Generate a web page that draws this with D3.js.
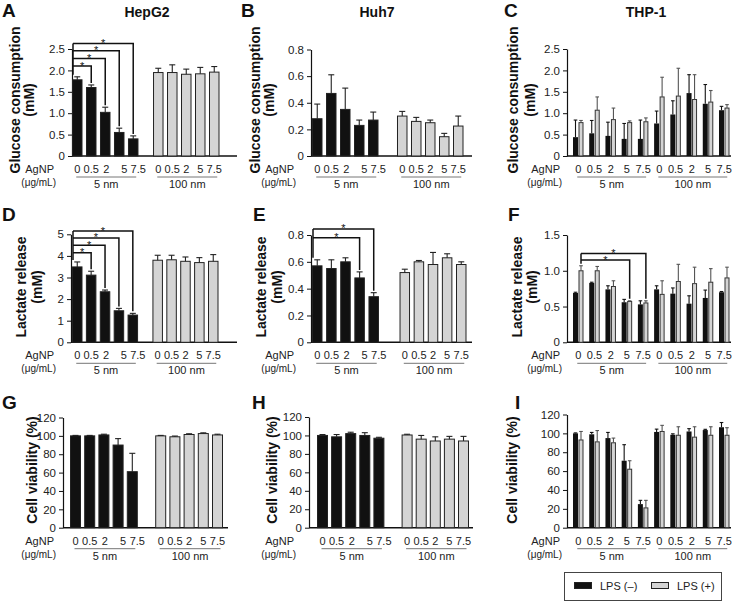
<!DOCTYPE html>
<html><head><meta charset="utf-8">
<script src="https://cdn.jsdelivr.net/npm/d3@7"></script>
<style>
body{margin:0;background:#fff}
svg{display:block;font-family:"Liberation Sans",Arial,Helvetica,sans-serif}
</style>
</head><body>
<svg id="chart" width="734" height="602"></svg>
<script>
// ---------- shared categories ----------
const doses = ["0", "0.5", "2", "5", "7.5"];
const sizeGroups = ["5 nm", "100 nm"];
const seriesNames = ["LPS (–)", "LPS (+)"];
const cellLines = ["HepG2", "Huh7", "THP-1"];
const panelLetters = ["A","B","C","D","E","F","G","H","I"];
const yLabels = [["Glucose consumption", "(mM)"], ["Lactate release", "(mM)"], ["Cell viability (%)"]];
const xLabelLine1 = "AgNP";
const xLabelLine2 = "(μg/mL)";

// ---------- A: HepG2 glucose (mM) ----------
const hepg2Glucose5 = [1.78, 1.60, 1.02, 0.55, 0.40];
const hepg2Glucose5Err = [0.07, 0.06, 0.12, 0.10, 0.07];
const hepg2Glucose100 = [1.95, 1.95, 1.91, 1.92, 1.96];
const hepg2Glucose100Err = [0.10, 0.18, 0.12, 0.15, 0.13];
const hepg2GlucoseSigTargets = [1, 2, 3, 4];
const hepg2GlucoseSigLevels = [2.10, 2.28, 2.46, 2.63];

// ---------- B: Huh7 glucose (mM) ----------
const huh7Glucose5 = [0.28, 0.47, 0.35, 0.23, 0.27];
const huh7Glucose5Err = [0.11, 0.14, 0.16, 0.04, 0.06];
const huh7Glucose100 = [0.30, 0.26, 0.25, 0.145, 0.225];
const huh7Glucose100Err = [0.035, 0.03, 0.02, 0.025, 0.075];

// ---------- C: THP-1 glucose (mM), 5 nm then 100 nm ----------
const thp1GlucoseLpsNeg = [0.44, 0.53, 0.47, 0.40, 0.40, 0.76, 0.97, 1.47, 1.22, 1.07];
const thp1GlucoseLpsNegErr = [0.40, 0.30, 0.32, 0.36, 0.44, 0.29, 0.32, 0.43, 0.45, 0.09];
const thp1GlucoseLpsPos = [0.78, 1.07, 0.85, 0.78, 0.80, 1.38, 1.40, 1.32, 1.26, 1.12];
const thp1GlucoseLpsPosErr = [0.05, 0.31, 0.27, 0.04, 0.09, 0.46, 0.65, 0.58, 0.27, 0.08];

// ---------- D: HepG2 lactate (mM) ----------
const hepg2Lactate5 = [3.49, 3.11, 2.34, 1.46, 1.26];
const hepg2Lactate5Err = [0.23, 0.18, 0.08, 0.11, 0.08];
const hepg2Lactate100 = [3.80, 3.82, 3.75, 3.69, 3.75];
const hepg2Lactate100Err = [0.23, 0.21, 0.20, 0.23, 0.31];
const hepg2LactateSigTargets = [1, 2, 3, 4];
const hepg2LactateSigLevels = [4.15, 4.49, 4.83, 5.15];

// ---------- E: Huh7 lactate (mM) ----------
const huh7Lactate5 = [0.57, 0.55, 0.60, 0.48, 0.34];
const huh7Lactate5Err = [0.045, 0.065, 0.03, 0.045, 0.03];
const huh7Lactate100 = [0.52, 0.60, 0.58, 0.63, 0.58];
const huh7Lactate100Err = [0.025, 0.01, 0.09, 0.03, 0.02];
const huh7LactateSigTargets = [3, 4];
const huh7LactateSigLevels = [0.78, 0.845];

// ---------- F: THP-1 lactate (mM) ----------
const thp1LactateLpsNeg = [0.69, 0.83, 0.74, 0.56, 0.53, 0.74, 0.68, 0.54, 0.62, 0.70];
const thp1LactateLpsNegErr = [0.01, 0.01, 0.05, 0.04, 0.05, 0.05, 0.08, 0.11, 0.11, 0.01];
const thp1LactateLpsPos = [1.00, 1.00, 0.78, 0.57, 0.55, 0.67, 0.85, 0.82, 0.84, 0.90];
const thp1LactateLpsPosErr = [0.07, 0.06, 0.08, 0.01, 0.03, 0.19, 0.24, 0.23, 0.19, 0.15];
const thp1LactateSigTargets = [3, 4];
const thp1LactateSigLevels = [1.15, 1.24];

// ---------- G: HepG2 viability (%) ----------
const hepg2Viability5 = [100, 100, 101, 90, 61];
const hepg2Viability5Err = [0.5, 0.5, 0.8, 7, 20];
const hepg2Viability100 = [100, 99, 101.5, 102.5, 101];
const hepg2Viability100Err = [0.5, 0.8, 0.8, 0.8, 0.8];

// ---------- H: Huh7 viability (%) ----------
const huh7Viability5 = [100, 98.5, 102, 100, 97];
const huh7Viability5Err = [1, 2.5, 1.5, 3, 1];
const huh7Viability100 = [100.5, 96, 94, 96, 94];
const huh7Viability100Err = [0.8, 4, 4.5, 3, 5];

// ---------- I: THP-1 viability (%) ----------
const thp1ViabilityLpsNeg = [100, 99, 95, 71, 25, 101.5, 98.5, 102, 103.5, 106.5];
const thp1ViabilityLpsNegErr = [0.5, 2, 6, 17, 4, 3, 1, 3, 0.8, 5];
const thp1ViabilityLpsPos = [93, 91, 90, 62, 21, 102, 98, 96, 98, 98];
const thp1ViabilityLpsPosErr = [9, 12, 5, 9, 8, 6.5, 9, 11, 9, 8];

// ================= drawing =================
const svg = d3.select("#chart");
const INK = "#111";
const GREY = "#d4d4d4";
const titleX = [147, 377, 646];
const rowBase = [156, 342.3, 527.7];
const letterPos = [[2,17],[241,17],[504,17],[2,221],[253,221],[508,221],[2,409],[252,409],[515,409]];
const yLabelX = [[[15,29],[255,269],[513,530]], [[21,37],[261,277],[517,532]], [[32],[272],[512]]];
const yLabelY = [100, 287, 470];
const agnpRight = [54, 294, 560];
const nudge5 = [0, 0, 1, 5, 5];

// titles & letters
cellLines.forEach((t, i) => {
  svg.append("text").attr("x", titleX[i]).attr("y", 17).attr("text-anchor", "middle")
    .attr("font-size", 14).attr("font-weight", "bold").attr("fill", INK).text(t);
});
panelLetters.forEach((L, i) => {
  svg.append("text").attr("x", letterPos[i][0]).attr("y", letterPos[i][1])
    .attr("font-size", 19).attr("font-weight", "bold").attr("fill", INK).text(L);
});

function yAxis(g, p, y) {
  const ticks = d3.range(0, p.max + p.step / 2, p.step);
  const fmt = d => (Math.abs(d) < 1e-9 ? "0" : (p.step < 1 ? d3.format(".1f")(d) : d3.format("d")(d)));
  const ax = g.append("g").attr("transform", `translate(${p.axisX},0)`)
    .call(d3.axisLeft(y).tickValues(ticks).tickSize(4).tickSizeOuter(0).tickFormat(fmt));
  ax.select(".domain").attr("stroke", INK).attr("stroke-width", 1.2);
  ax.selectAll(".tick line").attr("stroke", INK).attr("stroke-width", 1);
  ax.selectAll(".tick text").attr("font-size", 11.5).attr("fill", "#222")
    .attr("font-family", '"Liberation Sans",Arial,sans-serif');
  g.append("line").attr("x1", p.axisX).attr("x2", p.axisEnd)
    .attr("y1", y(0)).attr("y2", y(0)).attr("stroke", INK).attr("stroke-width", 1.4);
}

function errorBar(g, cx, v, e, y, half, color) {
  g.append("line").attr("x1", cx).attr("x2", cx).attr("y1", y(v)).attr("y2", y(v + e))
    .attr("stroke", color).attr("stroke-width", 1.1);
  g.append("line").attr("x1", cx - half).attr("x2", cx + half).attr("y1", y(v + e)).attr("y2", y(v + e))
    .attr("stroke", color).attr("stroke-width", 1.1);
}

function xLabels(g, p, centers, row) {
  const base = rowBase[row];
  const c = p.col;
  g.append("text").attr("x", agnpRight[c]).attr("y", base + 17).attr("text-anchor", "end")
    .attr("font-size", 11).attr("fill", "#222").text(xLabelLine1);
  g.append("text").attr("x", agnpRight[c] + 2).attr("y", base + 30).attr("text-anchor", "end")
    .attr("font-size", 10).attr("fill", "#222").text(xLabelLine2);
  sizeGroups.forEach((s, gi) => {
    const cs = centers.slice(gi * 5, gi * 5 + 5);
    cs.forEach((cx, i) => {
      const dx = (p.paired || gi === 1) ? 0 : nudge5[i];
      g.append("text").attr("x", cx + dx).attr("y", base + 17).attr("text-anchor", "middle")
        .attr("font-size", 11).attr("fill", "#222").text(doses[i]);
    });
    const x1 = cs[0] - 1, x2 = cs[4] + 3;
    g.append("line").attr("x1", x1).attr("x2", x2).attr("y1", base + 21).attr("y2", base + 21)
      .attr("stroke", "#666").attr("stroke-width", 0.9);
    g.append("text").attr("x", (x1 + x2) / 2).attr("y", base + 32).attr("text-anchor", "middle")
      .attr("font-size", 11).attr("fill", "#222").text(s);
  });
}

function yTitle(g, row, col) {
  yLabels[row].forEach((t, li) => {
    const x = yLabelX[row][col][li];
    g.append("text").attr("transform", `translate(${x},${yLabelY[row]}) rotate(-90)`)
      .attr("text-anchor", "middle").attr("dy", "0.35em")
      .attr("font-size", 14).attr("font-weight", "bold").attr("fill", INK).text(t);
  });
}

function brackets(g, leftX, baseTop, targetsX, targetTops, levels, y) {
  const topLevel = d3.max(levels);
  g.append("line").attr("x1", leftX).attr("x2", leftX).attr("y1", y(topLevel)).attr("y2", baseTop - 2)
    .attr("stroke", INK).attr("stroke-width", 1.5);
  levels.forEach((lv, k) => {
    const tx = targetsX[k];
    g.append("path").attr("d", `M${leftX},${y(lv)}H${tx}V${targetTops[k] - 2}`)
      .attr("fill", "none").attr("stroke", INK).attr("stroke-width", 1.5);
    g.append("text").attr("x", (leftX + tx) / 2).attr("y", y(lv) + 3.5).attr("text-anchor", "middle")
      .attr("font-size", 11).attr("fill", INK).text("*");
  });
}

function singlePanel(p) {
  const g = svg.append("g");
  const y = d3.scaleLinear().domain([0, p.max]).range([rowBase[p.row], p.yTop]);
  const x = d3.scaleLinear().domain([0, 9 + p.gap]).range([p.first, p.last]);
  const pos = (gi, i) => x(i + gi * (5 + p.gap));
  yAxis(g, p, y);
  const centers = [];
  [[p.v5, p.e5, INK], [p.v100, p.e100, GREY]].forEach(([vals, errs, fill], gi) => {
    vals.forEach((v, i) => {
      const x0 = pos(gi, i);
      const cx = x0 + p.bw / 2;
      centers.push(cx);
      g.append("rect").attr("x", x0 + 0.5).attr("y", y(v)).attr("width", p.bw - 1)
        .attr("height", y(0) - y(v)).attr("fill", fill).attr("stroke", "#222").attr("stroke-width", 1);
      errorBar(g, cx, v, errs[i], y, 3, "#222");
    });
  });
  if (p.sigTargets) {
    brackets(g, pos(0, 0) + 1, y(p.v5[0] + p.e5[0]),
      p.sigTargets.map(i => centers[i]),
      p.sigTargets.map(i => y(p.v5[i] + p.e5[i])), p.sigLevels, y);
  }
  xLabels(g, p, centers, p.row);
  yTitle(g, p.row, p.col);
}

function pairedPanel(p) {
  const g = svg.append("g");
  const y = d3.scaleLinear().domain([0, p.max]).range([rowBase[p.row], p.yTop]);
  const x = d3.scaleLinear().domain([0, 9]).range([573, 719]);
  yAxis(g, p, y);
  const bw = 5, off = 5.5;
  const centers = [];
  p.neg.forEach((v, k) => {
    const x0 = x(k);
    centers.push(x0 + (off + bw) / 2);
    g.append("rect").attr("x", x0).attr("y", y(v)).attr("width", bw).attr("height", y(0) - y(v)).attr("fill", INK);
    errorBar(g, x0 + bw / 2, v, p.negErr[k], y, 1.8, INK);
    const v2 = p.pos[k];
    g.append("rect").attr("x", x0 + off + 0.5).attr("y", y(v2)).attr("width", bw - 1)
      .attr("height", y(0) - y(v2)).attr("fill", GREY).attr("stroke", "#333").attr("stroke-width", 1);
    errorBar(g, x0 + off + bw / 2, v2, p.posErr[k], y, 1.8, "#555");
  });
  if (p.sigTargets) {
    const gx = k => x(k) + off + bw / 2;
    brackets(g, gx(0), y(p.pos[0] + p.posErr[0]),
      p.sigTargets.map(gx), p.sigTargets.map(k => y(p.pos[k] + p.posErr[k])), p.sigLevels, y);
  }
  xLabels(g, p, centers, p.row);
  yTitle(g, p.row, p.col);
}

singlePanel({row:0, col:0, axisX:72, axisEnd:237, first:72, last:209, gap:0.79, bw:10.5, yTop:49, max:2.5, step:0.5,
  v5:hepg2Glucose5, e5:hepg2Glucose5Err, v100:hepg2Glucose100, e100:hepg2Glucose100Err,
  sigTargets:hepg2GlucoseSigTargets, sigLevels:hepg2GlucoseSigLevels});
singlePanel({row:0, col:1, axisX:311, axisEnd:472, first:312, last:453, gap:1.07, bw:10.5, yTop:49.5, max:0.8, step:0.2,
  v5:huh7Glucose5, e5:huh7Glucose5Err, v100:huh7Glucose100, e100:huh7Glucose100Err});
pairedPanel({row:0, col:2, paired:true, axisX:567, axisEnd:731, yTop:49, max:2.5, step:0.5,
  neg:thp1GlucoseLpsNeg, negErr:thp1GlucoseLpsNegErr, pos:thp1GlucoseLpsPos, posErr:thp1GlucoseLpsPosErr});

singlePanel({row:1, col:0, axisX:71, axisEnd:237, first:72, last:208, gap:0.79, bw:10.5, yTop:234.3, max:5, step:1,
  v5:hepg2Lactate5, e5:hepg2Lactate5Err, v100:hepg2Lactate100, e100:hepg2Lactate100Err,
  sigTargets:hepg2LactateSigTargets, sigLevels:hepg2LactateSigLevels});
singlePanel({row:1, col:1, axisX:311, axisEnd:472, first:312, last:456, gap:1.2, bw:10.5, yTop:235, max:0.8, step:0.2,
  v5:huh7Lactate5, e5:huh7Lactate5Err, v100:huh7Lactate100, e100:huh7Lactate100Err,
  sigTargets:huh7LactateSigTargets, sigLevels:huh7LactateSigLevels});
pairedPanel({row:1, col:2, paired:true, axisX:567, axisEnd:731, yTop:235, max:1.5, step:0.5,
  neg:thp1LactateLpsNeg, negErr:thp1LactateLpsNegErr, pos:thp1LactateLpsPos, posErr:thp1LactateLpsPosErr,
  sigTargets:thp1LactateSigTargets, sigLevels:thp1LactateSigLevels});

singlePanel({row:2, col:0, axisX:63, axisEnd:228, first:70, last:212, gap:1.0, bw:11, yTop:417.5, max:120, step:20,
  v5:hepg2Viability5, e5:hepg2Viability5Err, v100:hepg2Viability100, e100:hepg2Viability100Err});
singlePanel({row:2, col:1, axisX:309, axisEnd:473, first:317, last:458, gap:1.0, bw:11, yTop:417, max:120, step:20,
  v5:huh7Viability5, e5:huh7Viability5Err, v100:huh7Viability100, e100:huh7Viability100Err});
pairedPanel({row:2, col:2, paired:true, axisX:567, axisEnd:731, yTop:414.5, max:120, step:20,
  neg:thp1ViabilityLpsNeg, negErr:thp1ViabilityLpsNegErr, pos:thp1ViabilityLpsPos, posErr:thp1ViabilityLpsPosErr});

// legend
const lg = svg.append("g");
lg.append("rect").attr("x", 564.5).attr("y", 572.5).attr("width", 157).attr("height", 28)
  .attr("fill", "#fff").attr("stroke", "#444").attr("stroke-width", 1);
const legendFill = [INK, GREY];
seriesNames.forEach((s, i) => {
  const lx = 574 + i * 77;
  lg.append("rect").attr("x", lx + 0.5).attr("y", 582.5).attr("width", 17).attr("height", 6)
    .attr("fill", legendFill[i]).attr("stroke", "#222").attr("stroke-width", 1);
  lg.append("text").attr("x", lx + 26).attr("y", 589.5).attr("font-size", 11).attr("fill", "#222").text(s);
});
</script>
</body></html>
